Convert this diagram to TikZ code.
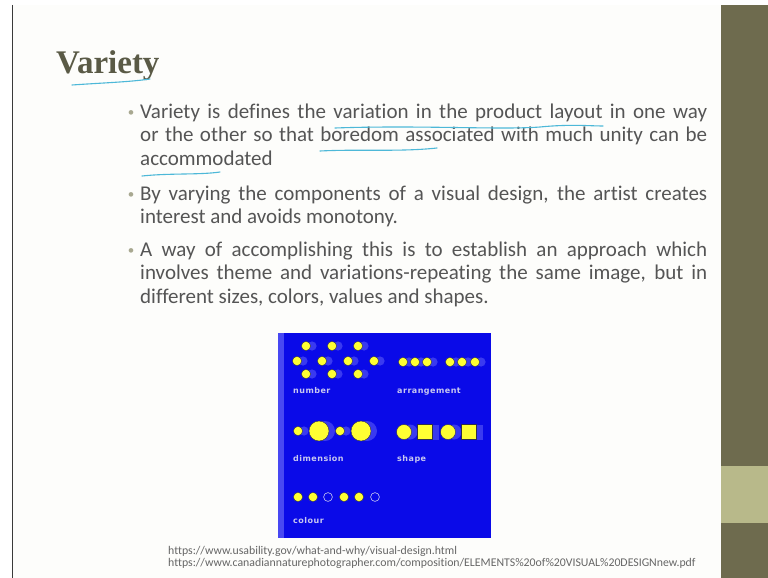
\documentclass[tikz,border=0pt]{standalone}
\usepackage{fontspec}
\setmainfont{Carlito}[Ligatures={NoCommon,NoDiscretionary}]
\newfontfamily\titlefont{Liberation Serif}
\newfontfamily\labelfont[LetterSpace=6]{DejaVu Sans}
\usetikzlibrary{positioning}
\definecolor{slidebg}{HTML}{FDFDFB}
\definecolor{bandolive}{HTML}{6E6B4E}
\definecolor{bandlight}{HTML}{B8B98A}
\definecolor{edgegray}{HTML}{3A3A3A}
\definecolor{titlegray}{HTML}{5A5A46}
\definecolor{bodygray}{HTML}{555555}
\definecolor{bulletgray}{HTML}{A8A890}
\definecolor{penblue}{HTML}{4DB8D8}
\definecolor{imgblue}{HTML}{0A0AE8}
\definecolor{stripblue}{HTML}{4848F2}
\definecolor{ghostblue}{HTML}{3A3AF0}
\definecolor{spotyellow}{HTML}{FFFF33}
\definecolor{spotedge}{HTML}{30304A}
\definecolor{labelgray}{HTML}{C8C8F0}
\definecolor{urlgray}{HTML}{666666}

\begin{document}
\begin{tikzpicture}[x=1pt,y=-1pt]

  \tikzset{
    pics/spot/.style args={#1}{code={
      \fill[ghostblue] (6pt,0) circle (#1);
      \draw[spotedge,fill=spotyellow,line width=0.4pt] (0,0) circle (#1);
      },
    },
    pics/flatspot/.style args={#1}{code={
      \draw[spotedge,fill=spotyellow,line width=0.4pt] (0,0) circle (#1);
      },
    },
    pics/ring/.style args={#1}{code={
      \draw[labelgray,fill=imgblue,line width=0.6pt] (0,0) circle (#1);
      },
    },
    pics/block/.style args={#1}{code={
      \fill[ghostblue] (-#1+6pt,-#1) rectangle (#1+6pt,#1);
      \draw[spotedge,fill=spotyellow,line width=0.4pt] (-#1,-#1) rectangle (#1,#1);
      },
    },
    bodytext/.style={text width=567pt,align=justify,anchor=base west,inner sep=0pt,
      text=bodygray,font=\fontsize{21}{23.5}\selectfont},
    bulletdot/.style={anchor=base,inner sep=0pt,text=bulletgray,font=\fontsize{13}{13}\selectfont},
    imglabel/.style={anchor=base west,inner sep=0pt,text=labelgray,
      font=\labelfont\bfseries\fontsize{8}{8}\selectfont},
    urltext/.style={anchor=base west,inner sep=0pt,text=urlgray,font=\fontsize{11.8}{12}\selectfont},
    pen/.style={penblue,line width=1.1pt,line cap=round},
  }
  %SLIDE
  \useasboundingbox (0,0) rectangle (768,578);
  \fill[white] (0,0) rectangle (768,578);
  \fill[slidebg] (12,5) rectangle (721,578);
  \draw[edgegray,line width=1.2pt] (12.6,5) -- (12.6,578);
  \fill[bandolive] (721,5) rectangle (768,578);
  \fill[bandlight] (721,466) rectangle (768,523);
  %TITLE
  \node[anchor=base west,inner sep=0pt,text=titlegray,font=\titlefont\bfseries\fontsize{33}{33}\selectfont]
    (title) at (56,74) {Variety};
  %BULLETS
  \node[bulletdot] (dot1) at (131,116) {\textbullet};
  \node[bodytext] (item1) at (140,118) {Variety is defines the variation in the product layout in one way\linebreak
    or the other so that boredom associated with much unity can be\linebreak accommodated};
  \node[bulletdot] (dot2) at (131,198) {\textbullet};
  \node[bodytext] (item2) at (140,200) {By varying the components of a visual design, the artist creates\linebreak
    interest and avoids monotony.};
  \node[bulletdot] (dot3) at (131,254) {\textbullet};
  \node[bodytext] (item3) at (140,256) {A way of accomplishing this is to establish an approach which\linebreak
    involves theme and variations-repeating the same image, but in\linebreak
    different sizes, colors, values and shapes.};
  %PEN MARKS
  \draw[pen] (72,85) .. controls (100,83) and (130,82) .. (150,79);
  \draw[pen] (335,128) .. controls (420,125) and (500,130) .. (540,127)
    .. controls (570,124) and (590,126) .. (603,126);
  \draw[pen] (320,151) .. controls (360,149) and (400,152) .. (437,148);
  \draw[pen] (142,176) .. controls (170,173) and (200,175) .. (220,172);
  %PICTURE
  \fill[imgblue] (278,333) rectangle (491,538);
  \fill[stripblue] (278,333) rectangle (284,538);
  \foreach \x in {306,332,358}{
    \draw (\x,346) pic {spot={4.6pt}};
    \draw (\x,374) pic {spot={4.6pt}};
  }
  \foreach \x in {297,322,348,374}{
    \draw (\x,361) pic {spot={4.6pt}};
  }
  \node[imglabel] (number) at (293,393) {number};
  \foreach \x in {403,415,427,450,462,475}{
    \draw (\x,362) pic {spot={4.6pt}};
  }
  \node[imglabel] (arrangement) at (397,393) {arrangement};
  \draw (298,431) pic {spot={4.6pt}};
  \draw (319,431) pic {spot={10pt}};
  \draw (340,431) pic {spot={4.6pt}};
  \draw (361,431) pic {spot={10pt}};
  \node[imglabel] (dimension) at (293,461) {dimension};
  \draw (404,432) pic {spot={7.5pt}};
  \draw (425,432) pic {block={7.5pt}};
  \draw (448,432) pic {spot={7.5pt}};
  \draw (469,432) pic {block={7.5pt}};
  \node[imglabel] (shape) at (397,461) {shape};
  \foreach \x in {298,313,344,359}{
    \draw (\x,497) pic {flatspot={4.6pt}};
  }
  \foreach \x in {328,375}{
    \draw (\x,497) pic {ring={4.4pt}};
  }
  \node[imglabel] (colour) at (293,523) {colour};
  %SOURCES
  \node[urltext] (src1) at (168,554) {https://www.usability.gov/what-and-why/visual-design.html};
  \node[urltext] (src2) at (168,566) {https://www.canadiannaturephotographer.com/composition/ELEMENTS\%20of\%20VISUAL\%20DESIGNnew.pdf};
\end{tikzpicture}
\end{document}
